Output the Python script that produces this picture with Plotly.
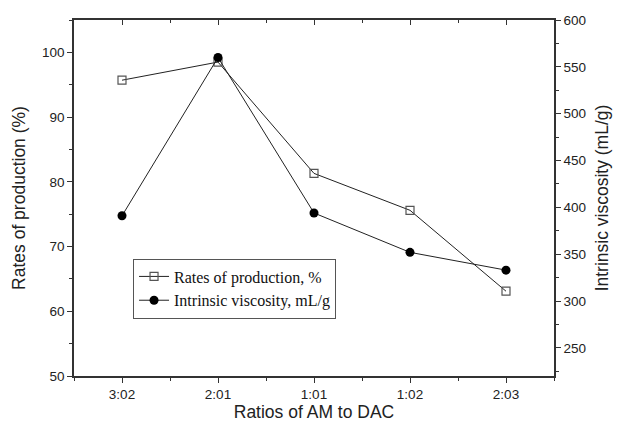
import plotly.graph_objects as go

categories = ["3:02", "2:01", "1:01", "1:02", "2:03"]
rates = [95.7, 98.5, 81.3, 75.6, 63.1]
viscosity = [391, 560, 394, 352, 333]

xpos = list(range(1, len(categories) + 1))
axis_col = "#333333"
fig = go.Figure()
fig.add_trace(go.Scatter(
    x=xpos, y=rates, mode="lines+markers", name="Rates of production, %",
    line=dict(color="#222222", width=1),
    marker=dict(symbol="square-open", size=8, color="#555555", line=dict(width=1.2)),
))
fig.add_trace(go.Scatter(
    x=xpos, y=viscosity, mode="lines+markers", name="Intrinsic viscosity, mL/g",
    yaxis="y2",
    line=dict(color="#222222", width=1),
    marker=dict(symbol="circle", size=9, color="black"),
))
# invisible trace for the top axis with inward ticks
fig.add_trace(go.Scatter(x=xpos, y=rates, xaxis="x2", mode="markers",
                         marker=dict(opacity=0), showlegend=False, hoverinfo="skip"))

tickfont = dict(family="Liberation Sans, Arial", size=13.5, color="#222222")
titlefont = dict(family="Liberation Sans, Arial", size=17.5, color="#222222")

fig.update_layout(
    width=618, height=423,
    margin=dict(l=74, r=64, t=20, b=47, autoexpand=False),
    paper_bgcolor="white", plot_bgcolor="white",
    showlegend=True,
    legend=dict(x=0.123, y=0.33, xanchor="left", yanchor="top",
                bgcolor="white", bordercolor="#555555", borderwidth=1,
                font=dict(family="Liberation Serif, Times New Roman", size=16, color="#111111"),
                tracegroupgap=0, itemwidth=30),
    xaxis=dict(
        range=[0.5, 5.5], tickvals=xpos, ticktext=categories, automargin=False,
        ticks="outside", ticklen=5, tickwidth=1.2, tickcolor=axis_col,
        minor=dict(dtick=0.5, tick0=0.5, ticks="outside", ticklen=3, tickcolor=axis_col),
        showline=True, linecolor=axis_col, linewidth=1.5, showgrid=False, zeroline=False,
        tickfont=tickfont,
        title=dict(text="Ratios of AM to DAC", font=titlefont, standoff=4),
    ),
    xaxis2=dict(
        range=[0.5, 5.5], overlaying="x", side="top", anchor="y", automargin=False,
        tickvals=xpos, ticks="inside", ticklen=5, tickwidth=1.2, tickcolor=axis_col,
        minor=dict(dtick=0.5, tick0=0.5, ticks="inside", ticklen=3, tickcolor=axis_col),
        showticklabels=False, showline=True, linecolor=axis_col, linewidth=1.5,
        showgrid=False, zeroline=False,
    ),
    yaxis=dict(
        range=[50, 105], tickvals=[50, 60, 70, 80, 90, 100], automargin=False,
        ticks="outside", ticklen=5, tickwidth=1.2, tickcolor=axis_col,
        minor=dict(dtick=5, tick0=50, ticks="outside", ticklen=3, tickcolor=axis_col),
        showline=True, linecolor=axis_col, linewidth=1.5, showgrid=False, zeroline=False,
        tickfont=tickfont,
        title=dict(text="Rates of production (%)", font=titlefont, standoff=12),
    ),
    yaxis2=dict(
        range=[220, 600], overlaying="y", side="right", anchor="x", automargin=False,
        tickvals=[250, 300, 350, 400, 450, 500, 550, 600],
        ticks="outside", ticklen=5, tickwidth=1.2, tickcolor=axis_col,
        minor=dict(dtick=25, tick0=225, ticks="outside", ticklen=3, tickcolor=axis_col),
        showline=True, linecolor=axis_col, linewidth=1.5, showgrid=False, zeroline=False,
        tickfont=tickfont,
        title=dict(text="Intrinsic viscosity (mL/g)", font=titlefont, standoff=11),
    ),
)

fig.write_html("out.html")
